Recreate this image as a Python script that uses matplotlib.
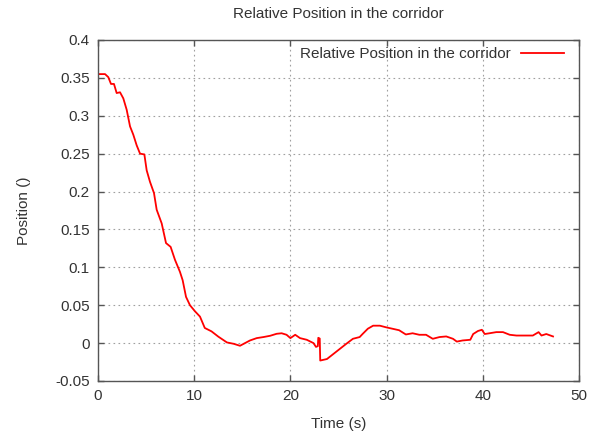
import matplotlib
matplotlib.use("Agg")
import matplotlib.pyplot as plt

# values
time_s = [0.0, 0.73, 1.07, 1.35, 1.66, 1.94, 2.29, 2.63, 2.98, 3.33, 3.67,
          4.02, 4.37, 4.82, 5.06, 5.40, 5.82, 6.10, 6.62, 7.07, 7.55, 8.00,
          8.52, 8.80, 9.15, 9.56, 10.08, 10.6, 11.1, 11.8, 12.5, 13.4, 14.1,
          14.76, 15.28, 15.8, 16.5, 17.2, 17.9, 18.57, 19.09, 19.6, 20.0,
          20.5, 21.0, 21.7, 22.4, 22.66, 22.85, 22.9, 23.05, 23.1, 23.8,
          24.5, 25.15, 25.8, 26.5, 27.2, 27.5, 28.05, 28.6, 29.3, 29.9,
          30.6, 31.3, 32.0, 32.7, 33.4, 34.1, 34.8, 35.5, 36.2, 36.9, 37.3,
          37.9, 38.7, 39.0, 39.5, 39.9, 40.2, 40.7, 41.4, 42.1, 42.8, 43.5,
          44.6, 45.2, 45.8, 46.1, 46.6, 47.3]
position = [0.355, 0.355, 0.351, 0.342, 0.342, 0.330, 0.331, 0.323, 0.308,
            0.286, 0.275, 0.261, 0.250, 0.249, 0.228, 0.213, 0.198, 0.176,
            0.158, 0.132, 0.127, 0.110, 0.094, 0.083, 0.061, 0.050, 0.042,
            0.035, 0.020, 0.0155, 0.0086, 0.0009, -0.0009, -0.0035, 0.0,
            0.0035, 0.0066, 0.008, 0.0097, 0.0123, 0.013, 0.011, 0.0066,
            0.011, 0.0066, 0.0044, 0.0, -0.005, -0.004, 0.007, 0.006, -0.023,
            -0.021, -0.014, -0.0075, -0.001, 0.0057, 0.008, 0.012, 0.019,
            0.023, 0.023, 0.021, 0.019, 0.017, 0.0114, 0.013, 0.011, 0.011,
            0.0057, 0.008, 0.0088, 0.0057, 0.002, 0.0035, 0.0044, 0.012,
            0.016, 0.0176, 0.012, 0.013, 0.0145, 0.0145, 0.011, 0.010, 0.010,
            0.010, 0.0145, 0.010, 0.012, 0.0088]

x_ticks = [0, 10, 20, 30, 40, 50]
y_ticks = [-0.05, 0, 0.05, 0.1, 0.15, 0.2, 0.25, 0.3, 0.35, 0.4]
y_labels = ["-0.05", "0", "0.05", "0.1", "0.15", "0.2", "0.25", "0.3", "0.35", "0.4"]

plt.rcParams["font.family"] = ["Liberation Sans", "DejaVu Sans"]
TXT = "#333333"
FS = 11

fig = plt.figure(figsize=(6.0, 4.37), dpi=100)
ax = fig.add_axes([98 / 600, 56 / 437, 481 / 600, 341 / 437])

ax.plot(time_s, position, color="#ff0000", lw=1.3,
        label="Relative Position in the corridor")

ax.set_xlim(0, 50)
ax.set_ylim(-0.05, 0.4)
ax.set_xticks(x_ticks)
ax.set_yticks(y_ticks)
ax.set_yticklabels(y_labels)
ax.tick_params(direction="in", top=True, right=True, length=4, width=1,
               color="#555555", labelsize=FS, labelcolor=TXT, pad=6)
ax.grid(True, color="#a0a0a0", linestyle=(0, (1.5, 3)), lw=0.8)
for s in ax.spines.values():
    s.set_color("#555555")
    s.set_linewidth(1)

ax.set_xlabel("Time (s)", fontsize=FS, color=TXT, labelpad=10)
ax.set_ylabel("Position ()", fontsize=FS, color=TXT, labelpad=17)
ax.set_title("Relative Position in the corridor", fontsize=FS, color=TXT, pad=16)

leg = ax.legend(loc="upper right", bbox_to_anchor=(0.981, 0.997),
                borderaxespad=0, markerfirst=False, frameon=False,
                fontsize=FS, handlelength=2.8, handletextpad=0.7)
for t in leg.get_texts():
    t.set_color(TXT)

fig.savefig("out.png", dpi=100)
